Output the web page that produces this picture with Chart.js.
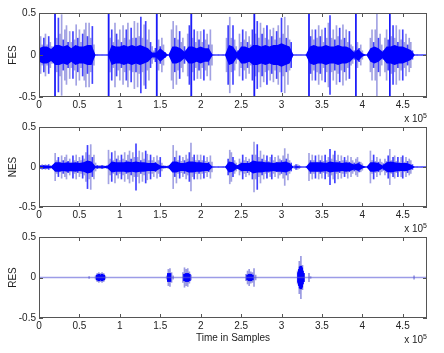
<!DOCTYPE html>
<html>
<head>
<meta charset="utf-8">
<script src="https://cdn.jsdelivr.net/npm/chart.js@4.4.1/dist/chart.umd.min.js"></script>
<style>
  html, body { margin: 0; padding: 0; background: #fff; }
  #wrap { position: relative; width: 444px; height: 353px; overflow: hidden; }
  canvas { position: absolute; left: 0; }
</style>
</head>
<body>
<div id="wrap">
  <canvas id="c-fes" width="444" height="126" style="top:0px"></canvas>
  <canvas id="c-nes" width="444" height="118" style="top:118px"></canvas>
  <canvas id="c-res" width="444" height="125" style="top:228px"></canvas>
</div>
<script>
/* ── axes ── */
var xTicks = [0, 0.5, 1, 1.5, 2, 2.5, 3, 3.5, 4, 4.5];
var yTicks = [-0.5, 0, 0.5];
var xMax = 4.8;            // x 10^5 samples
var peakStep = 0.02;       // spacing of the peak columns
var coreStep = 0.05;       // spacing of the dense core envelope

/* ── FES: peak amplitude per column, dense core, full-scale spikes ── */
var fesPeak = [
  0.15,0.22,0.12,0.2,0.25,0.12,0.22,0.15,0.1,0.06,
  0.5,0.2,0.44,0.25,0.48,0.18,0.3,0.35,0.15,0.28,
  0.15,0.28,0.18,0.36,0.2,0.3,0.15,0.25,0.3,0.38,
  0.22,0.38,0.2,0.34,0.12,0,0,0,0,0,
  0,0,0,0.5,0.2,0.3,0.15,0.38,0.25,0.18,
  0.3,0.15,0.35,0.2,0.3,0.38,0.18,0.32,0.2,0.4,
  0.2,0.38,0.22,0.45,0.2,0.36,0.4,0.18,0.3,0.15,
  0.1,0.05,0.08,0.5,0.18,0.1,0.2,0.12,0.03,0,
  0,0,0.3,0.4,0.2,0.35,0.18,0.28,0.15,0.2,
  0.1,0.05,0.25,0.35,0.5,0.2,0.3,0.15,0.28,0.18,
  0.28,0.15,0.3,0.18,0.25,0.12,0.3,0.12,0,0,
  0,0,0,0,0,0,0.2,0.35,0.45,0.2,
  0.35,0.18,0.1,0.05,0.25,0.15,0.3,0.18,0.28,0.15,
  0.22,0.12,0.3,0.5,0.25,0.4,0.2,0.38,0.25,0.32,
  0.2,0.35,0.18,0.3,0.22,0.32,0.18,0.28,0.35,0.2,
  0.44,0.25,0.45,0.2,0.35,0.18,0.15,0,0,0,
  0,0,0,0,0,0,0,0.5,0.22,0.3,
  0.18,0.3,0.2,0.35,0.22,0.3,0.15,0.32,0.2,0.38,
  0.47,0.2,0.3,0.18,0.35,0.22,0.32,0.18,0.36,0.2,
  0.3,0.15,0.28,0.12,0.1,0.05,0.5,0.15,0.08,0.12,
  0.05,0,0,0,0,0.2,0.3,0.15,0.3,0.5,
  0.2,0.25,0.12,0.05,0.2,0.3,0.18,0.5,0.22,0.35,
  0.2,0.35,0.15,0.3,0.18,0.3,0.15,0.25,0.12,0.2,
  0.15,0.05,0,0,0,0,0,0,0,0,
  0.2
];
var fesCore = [
  0.08,0.1,0.1,0.07,0.12,0.12,0.1,0.12,0.08,0.12,
  0.1,0.1,0.12,0.12,0,0,0,0,0.12,0.1,
  0.1,0.12,0.1,0.12,0.1,0.12,0.1,0.08,0.03,0.03,
  0.08,0.04,0,0.1,0.1,0.08,0.04,0.1,0.1,0.08,
  0.1,0.08,0.08,0,0,0,0,0.12,0.1,0.03,
  0.1,0.1,0.08,0.12,0.12,0.1,0.12,0.1,0.12,0.12,
  0.14,0.12,0.1,0,0,0,0,0.1,0.12,0.1,
  0.1,0.12,0.1,0.1,0.12,0.1,0.1,0.08,0.03,0.07,
  0.02,0,0.08,0.1,0.08,0.04,0.1,0.1,0.12,0.1,
  0.1,0.08,0.06,0,0,0,0
];
var fesSpikeX = [0.198, 0.862, 1.456, 1.885, 2.665, 3.34, 3.92, 4.34];
var fesSpikeAmp = [0.5, 0.5, 0.5, 0.5, 0.5, 0.5, 0.5, 0.5];

/* ── NES ── */
var nesPeak = [
  0.03,0.02,0.03,0.02,0.03,0.02,0.03,0.02,0.01,0.02,
  0.17,0.08,0.12,0.06,0.14,0.08,0.12,0.15,0.07,0.1,
  0.06,0.14,0.08,0.15,0.07,0.12,0.08,0.14,0.1,0.18,
  0.27,0.15,0.28,0.12,0.15,0.05,0.02,0.02,0.02,0.02,
  0.02,0.01,0.01,0.21,0.1,0.18,0.08,0.2,0.1,0.14,
  0.08,0.15,0.1,0.18,0.08,0.15,0.2,0.1,0.18,0.12,
  0.29,0.12,0.2,0.08,0.18,0.1,0.2,0.16,0.08,0.15,
  0.08,0.12,0.06,0.14,0.08,0.12,0.05,0.02,0.01,0.01,
  0.02,0.02,0.02,0.27,0.12,0.2,0.08,0.14,0.07,0.12,
  0.08,0.15,0.1,0.18,0.3,0.12,0.15,0.08,0.15,0.08,
  0.15,0.08,0.14,0.07,0.12,0.06,0.14,0.06,0,0,
  0,0,0,0,0,0,0,0.1,0.21,0.18,
  0.12,0.08,0.05,0.02,0.1,0.06,0.15,0.08,0.12,0.07,
  0.1,0.06,0.15,0.31,0.15,0.28,0.12,0.2,0.1,0.15,
  0.08,0.14,0.07,0.12,0.15,0.08,0.12,0.06,0.14,0.1,
  0.08,0.14,0.23,0.1,0.16,0.08,0.05,0,0.02,0.03,
  0.03,0.02,0,0,0,0,0,0.17,0.08,0.15,
  0.08,0.14,0.06,0.15,0.08,0.14,0.07,0.15,0.08,0.12,
  0.22,0.1,0.15,0.2,0.08,0.15,0.07,0.14,0.08,0.12,
  0.08,0.14,0.06,0.12,0.08,0.05,0.1,0.12,0.06,0.06,
  0.04,0,0,0,0,0.2,0.08,0.15,0.07,0.12,
  0.06,0.1,0.06,0.04,0.1,0.07,0.14,0.22,0.08,0.12,
  0.14,0.07,0.12,0.06,0.12,0.14,0.06,0.12,0.07,0.1,
  0.08,0.03,0,0,0,0,0,0,0,0,
  0.05
];
var nesCore = [
  0.02,0.02,0.02,0.01,0.06,0.06,0.05,0.06,0.05,0.06,
  0.05,0.06,0.08,0.07,0.01,0.01,0.01,0.02,0.07,0.06,
  0.06,0.06,0.07,0.06,0.07,0.06,0.06,0.05,0.05,0.05,
  0.02,0.01,0.01,0.07,0.07,0.05,0.05,0.07,0.07,0.06,
  0.06,0.05,0.05,0,0,0,0,0.07,0.06,0.02,
  0.05,0.05,0.05,0.08,0.07,0.07,0.06,0.06,0.05,0.06,
  0.06,0.07,0.05,0,0.01,0,0,0.06,0.06,0.06,
  0.06,0.05,0.07,0.06,0.06,0.05,0.06,0.05,0.03,0.05,
  0.02,0,0.06,0.06,0.05,0.02,0.06,0.07,0.06,0.05,
  0.05,0.05,0.03,0,0,0,0
];

/* ── RES (mostly silent, sparse) ── */
var resX = [0.62, 0.70,0.72,0.74,0.76,0.78,0.80,0.82, 1.58,1.60,1.62,1.64,1.66,
  1.78,1.80,1.82,1.84,1.86,1.88, 2.56,2.58,2.60,2.62,2.64,2.66,2.68,
  3.20,3.22,3.24,3.26,3.28, 3.34,3.36, 4.64, 4.80];
var resPeak = [0.01, 0.02,0.05,0.06,0.05,0.06,0.05,0.02, 0.02,0.1,0.11,0.06,0.02,
  0.06,0.12,0.1,0.11,0.07,0.03, 0.04,0.08,0.1,0.07,0.06,0.11,0.03,
  0.08,0.2,0.26,0.15,0.05, 0.05,0.01, 0.02, 0.03];
var resCoreX = [0.72,0.74,0.76,0.78,0.80, 1.60,1.62, 1.80,1.82,1.84,1.86,
  2.58,2.60,2.62,2.64, 3.21,3.22,3.23,3.24,3.25,3.26,3.27];
var resCore = [0.03,0.04,0.03,0.04,0.03, 0.05,0.05, 0.04,0.05,0.05,0.04,
  0.03,0.04,0.04,0.03, 0.06,0.1,0.13,0.14,0.12,0.08,0.05];

var BLUE = '#0000ff';
var FONT = '"Liberation Sans", Arial, sans-serif';

Chart.defaults.font.family = FONT;
Chart.defaults.font.size = 10;
Chart.defaults.color = '#222';

// thin strokes: some dark blue, most a washed-out blue-grey
function peakColour(c) {
  return c.dataIndex % 3 === 0 ? 'rgba(0,0,255,0.75)' : 'rgba(70,70,200,0.5)';
}

function stepXs(n, step) {
  var a = [];
  for (var i = 0; i < n; i++) a.push(Math.round(i * step * 1000) / 1000);
  return a;
}

function envBars(xs, amps, color, w, order) {
  return {
    type: 'bar',
    data: xs.map(function (x, i) { return { x: x, y: [-amps[i], amps[i]] }; }),
    backgroundColor: color,
    borderWidth: 0,
    barThickness: w,
    grouped: false,
    order: order
  };
}

function coreBand(xs, amps, sign) {
  return {
    type: 'line',
    data: xs.map(function (x, i) { return { x: x, y: sign * amps[i] }; }),
    borderColor: 'rgba(0,0,0,0)',
    borderWidth: 0,
    backgroundColor: BLUE,
    fill: 'origin',
    pointRadius: 0,
    tension: 0,
    order: 2
  };
}

function baseline(color, w) {
  return {
    type: 'line',
    data: [{ x: 0, y: 0 }, { x: xMax, y: 0 }],
    borderColor: color,
    borderWidth: w,
    pointRadius: 0,
    fill: false,
    order: 0
  };
}

// MATLAB style box, inward ticks and the x 10^5 exponent
var matlabAxes = {
  id: 'matlabAxes',
  afterDraw: function (chart) {
    var a = chart.chartArea, ctx = chart.ctx;
    var xs = chart.scales.x, ys = chart.scales.y;
    ctx.save();
    ctx.strokeStyle = '#555';
    ctx.lineWidth = 1;
    ctx.beginPath();
    xTicks.forEach(function (v) {
      var p = Math.round(xs.getPixelForValue(v)) + 0.5;
      ctx.moveTo(p, a.bottom); ctx.lineTo(p, a.bottom - 4);
      ctx.moveTo(p, a.top); ctx.lineTo(p, a.top + 4);
    });
    yTicks.forEach(function (v) {
      var p = Math.round(ys.getPixelForValue(v)) + 0.5;
      ctx.moveTo(a.left, p); ctx.lineTo(a.left + 4, p);
      ctx.moveTo(a.right, p); ctx.lineTo(a.right - 4, p);
    });
    ctx.stroke();
    ctx.strokeRect(a.left + 0.5, a.top + 0.5, a.right - a.left - 1, a.bottom - a.top - 1);

    ctx.fillStyle = '#222';
    ctx.textAlign = 'right';
    ctx.textBaseline = 'alphabetic';
    ctx.font = '7px ' + FONT;
    ctx.fillText('5', a.right, a.bottom + 21);
    var w5 = ctx.measureText('5').width;
    ctx.font = '10px ' + FONT;
    ctx.fillText('x 10', a.right - w5, a.bottom + 25);
    ctx.restore();
  }
};

function makeChart(id, datasets, opts) {
  var ctx = document.getElementById(id);
  return new Chart(ctx, {
    type: 'bar',
    data: { datasets: datasets },
    plugins: [matlabAxes],
    options: {
      responsive: false,
      animation: false,
      devicePixelRatio: 1,
      layout: { padding: { top: opts.top, right: 17, left: 0, bottom: 0 } },
      plugins: { legend: { display: false }, tooltip: { enabled: false } },
      scales: {
        x: {
          type: 'linear',
          min: 0, max: xMax,
          offset: false,
          grid: { display: false, drawTicks: false },
          border: { display: false },
          afterBuildTicks: function (s) { s.ticks = xTicks.map(function (v) { return { value: v }; }); },
          afterFit: function (s) { s.height = opts.xh; },
          ticks: { autoSkip: false, maxRotation: 0, padding: 2, callback: function (v) { return String(v); } },
          title: opts.xtitle ? { display: true, text: opts.xtitle, font: { size: 10 }, padding: { top: 0, bottom: 9 } } : { display: false }
        },
        y: {
          min: -0.5, max: 0.5,
          grid: { display: false, drawTicks: false },
          border: { display: false },
          afterBuildTicks: function (s) { s.ticks = yTicks.map(function (v) { return { value: v }; }); },
          afterFit: function (s) { s.width = 39; },
          ticks: { padding: 3, callback: function (v) { return String(v); } },
          title: { display: true, text: opts.ytitle, font: { size: 10 }, padding: { top: 7, bottom: 0 } }
        }
      }
    }
  });
}

var peakXs = stepXs(fesPeak.length, peakStep);
var coreXs = stepXs(fesCore.length, coreStep);

makeChart('c-fes', [
  envBars(peakXs, fesPeak, peakColour, 1, 3),
  coreBand(coreXs, fesCore, 1),
  coreBand(coreXs, fesCore, -1),
  envBars(fesSpikeX, fesSpikeAmp, 'rgba(0,0,255,0.85)', 1, 1),
  baseline(BLUE, 1)
], { top: 13, xh: 29, ytitle: 'FES' });

makeChart('c-nes', [
  envBars(stepXs(nesPeak.length, peakStep), nesPeak, peakColour, 1, 3),
  coreBand(stepXs(nesCore.length, coreStep), nesCore, 1),
  coreBand(stepXs(nesCore.length, coreStep), nesCore, -1),
  baseline(BLUE, 1)
], { top: 6, xh: 29, ytitle: 'NES' });

makeChart('c-res', [
  envBars(resX, resPeak, 'rgba(70,70,200,0.55)', 1, 3),
  envBars(resCoreX, resCore, BLUE, 2, 1),
  baseline('rgba(90,90,215,0.6)', 1.5)
], { top: 7, xh: 35, ytitle: 'RES', xtitle: 'Time in Samples' });
</script>
</body>
</html>
